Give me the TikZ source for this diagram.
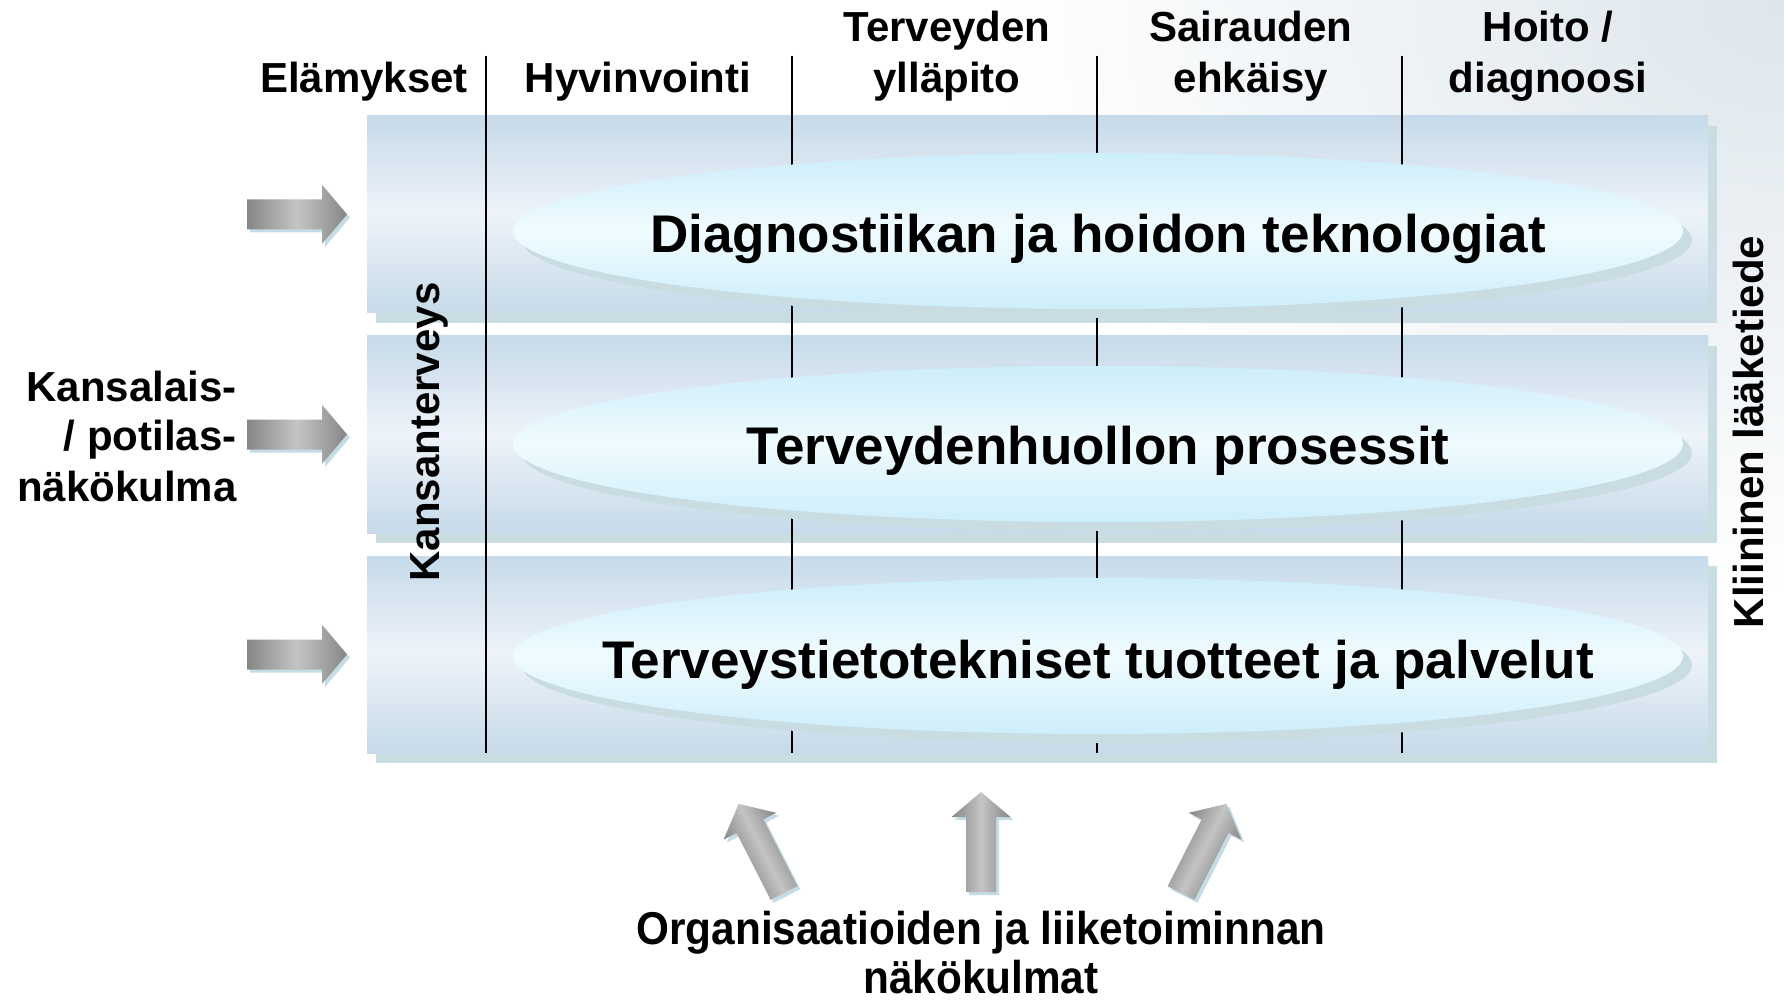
\documentclass[tikz,border=0pt]{standalone}
\usepackage{fontspec}
\setmainfont{Liberation Sans}
\usetikzlibrary{shapes.geometric,shadows}
\definecolor{bandtop}{HTML}{C6DAE9}
\definecolor{bandmid}{HTML}{EEF3FA}
\definecolor{bandsh}{HTML}{C9DDE3}
\definecolor{elltop}{HTML}{CDEEFB}
\definecolor{ellmid}{HTML}{F0FBFE}
\definecolor{ellsh}{HTML}{C8DCE2}
\definecolor{arrdark}{HTML}{868686}
\definecolor{arrlight}{HTML}{C4C4C4}
\definecolor{arrsh}{HTML}{C4DCE6}
\definecolor{bgblue}{HTML}{DDE6EC}
\newcommand{\fatarrowpath}[1]{\path[#1] (0,-15) -- (75,-15) -- (75,-29.5) -- (100,0) -- (75,29.5) -- (75,15) -- (0,15) -- cycle;}
% #1 x, #2 y, #3 shadow x, #4 shadow y, #5 rotation, #6 shading style
\newcommand{\fatarrowat}[6]{%
  \begin{scope}[transform canvas={shift={(#3,#4)},rotate=#5}]
    \fatarrowpath{fill=arrsh}
  \end{scope}
  \begin{scope}[transform canvas={shift={(#1,#2)},rotate=#5}]
    \fatarrowpath{#6}
  \end{scope}}
\tikzset{
  lbl/.style={font=\fontsize{21pt}{25pt}\selectfont\bfseries, inner sep=0pt},
  big/.style={font=\fontsize{26.5pt}{30pt}\selectfont\bfseries, inner sep=0pt},
  band/.style={rectangle, minimum width=670.5pt, minimum height=98.5pt, inner sep=0pt,
    top color=bandtop, bottom color=bandtop, middle color=bandmid,
    drop shadow={shadow xshift=4.5pt, shadow yshift=-5pt, fill=bandsh, opacity=1}},
  lens/.style={ellipse, minimum width=585pt, minimum height=78pt, inner sep=0pt,
    top color=elltop, bottom color=elltop, middle color=ellmid,
    drop shadow={shadow xshift=4.5pt, shadow yshift=-4.5pt, fill=ellsh, opacity=1}},
  divider/.style={line width=1pt, black},
  alongshade/.style={left color=arrdark, right color=arrdark, middle color=arrlight},
  acrossshade/.style={top color=arrdark, bottom color=arrdark, middle color=arrlight},
}
\begin{document}
\begin{tikzpicture}[x=0.5pt, y=-0.5pt]
\useasboundingbox (0,0) rectangle (1784,1000);
\fill[white] (0,0) rectangle (1784,1000);
% faint background texture top right
\begin{scope}
  \clip (0,0) rectangle (1784,1000);
  \shade[inner color=bgblue, outer color=white] (1784,0) ellipse [x radius=800, y radius=600];
\end{scope}
% bands
\node[band] (band1) at (1037.5,214.5) {};
\node[band] (band2) at (1037.5,434.5) {};
\node[band] (band3) at (1037.5,654.5) {};
% dividers
\coordinate (d1t) at (486,56);  \coordinate (d1b) at (486,753);
\coordinate (d2t) at (792,56);  \coordinate (d2b) at (792,753);
\coordinate (d3t) at (1097,56); \coordinate (d3b) at (1097,753);
\coordinate (d4t) at (1402,56); \coordinate (d4b) at (1402,753);
\draw[divider] (d1t) -- (d1b);
\draw[divider] (d2t) -- (d2b);
\draw[divider] (d3t) -- (d3b);
\draw[divider] (d4t) -- (d4b);
% lenses
\node[lens] (ell1) at (1098,231) {};
\node[lens] (ell2) at (1098,444) {};
\node[lens] (ell3) at (1098,656) {};
\node[big, anchor=base] (t1) at (1098,253) {Diagnostiikan ja hoidon teknologiat};
\node[big, anchor=base] (t2) at (1098,465) {Terveydenhuollon prosessit};
\node[big, anchor=base] (t3) at (1098,678) {Terveystietotekniset tuotteet ja palvelut};
% left arrows
\fatarrowat{247}{214.5}{250}{217.5}{0}{alongshade}
\fatarrowat{247}{434.5}{250}{437.5}{0}{alongshade}
\fatarrowat{247}{654.5}{250}{657.5}{0}{alongshade}
% bottom arrows
\fatarrowat{784}{893}{787}{896}{117}{acrossshade}
\fatarrowat{981}{892}{984}{895}{90}{acrossshade}
\fatarrowat{1181}{893}{1184}{896}{63}{acrossshade}
% header texts
\node[lbl, anchor=base] (h1) at (364,93) {Elämykset};
\node[lbl, anchor=base] (h2) at (638,93) {Hyvinvointi};
\node[lbl, anchor=base] (h3a) at (947,42) {Terveyden};
\node[lbl, anchor=base] (h3b) at (947,93) {ylläpito};
\node[lbl, anchor=base] (h4a) at (1251,42) {Sairauden};
\node[lbl, anchor=base] (h4b) at (1251,93) {ehkäisy};
\node[lbl, anchor=base] (h5a) at (1548,42) {Hoito /};
\node[lbl, anchor=base] (h5b) at (1548,93) {diagnoosi};
% left texts
\node[lbl, anchor=base east] (k1) at (237,401) {Kansalais-};
\node[lbl, anchor=base east] (k2) at (237,451) {/ potilas-};
\node[lbl, anchor=base east] (k3) at (237,501) {näkökulma};
% rotated texts
\node[lbl, anchor=base, rotate=90] (kt) at (439,432) {Kansanterveys};
\node[lbl, anchor=base, rotate=90] (kl) at (1763,432) {Kliininen lääketiede};
% bottom texts
\node[font=\fontsize{23pt}{27pt}\selectfont\bfseries, inner sep=0pt, anchor=base] (o1) at (981,944) {\scalebox{0.92}[1]{Organisaatioiden ja liiketoiminnan}};
\node[font=\fontsize{23pt}{27pt}\selectfont\bfseries, inner sep=0pt, anchor=base] (o2) at (981,993) {\scalebox{0.92}[1]{näkökulmat}};
\end{tikzpicture}
\end{document}
